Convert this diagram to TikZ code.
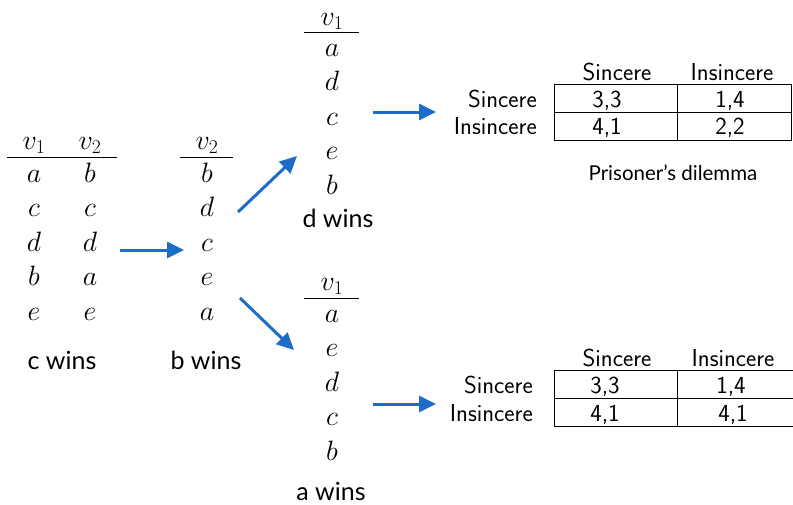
\RequirePackage{fix-cm}
\documentclass[tikz,border=0pt]{standalone}
\usepackage{fontspec}
\usetikzlibrary{arrows.meta}
\newfontfamily\labelfont{Lato}
\definecolor{arrowblue}{RGB}{28,108,200}
\begin{document}
\begin{tikzpicture}[x=1pt,y=-1pt,
  letter/.style={anchor=base,inner sep=0pt,font=\fontsize{28}{33}\selectfont},
  wins/.style={anchor=base,inner sep=0pt,font=\labelfont\fontsize{25}{30}\selectfont},
  payoff/.style={anchor=base,inner sep=0pt,font=\sffamily\fontsize{24.5}{29}\selectfont},
  rowlabel/.style={payoff,anchor=base east},
  cell/.style={draw,line width=1pt,inner sep=0pt,minimum height=28pt},
  rulebar/.style={line width=1pt},
  flow/.style={draw=arrowblue,line width=3pt,-{Triangle[length=17pt,width=16pt]}}]
\useasboundingbox (0,0) rectangle (793,504);

% ---- ballots of voters v1, v2 ----
\node[letter] (h11) at (34,149) {$v_1$};
\node[letter] (h12) at (90,149) {$v_2$};
\draw[rulebar] (7,157.5) -- (117,157.5);
\foreach \a/\b [count=\i from 0] in {a/b,c/c,d/d,b/a,e/e}{
  \node[letter] (t1a\i) at (34,182+34.5*\i) {$\a$};
  \node[letter] (t1b\i) at (90,182+34.5*\i) {$\b$};
}
\node[wins] (cw) at (62,369) {c wins};

% ---- after eliminating c: voter v2 ----
\node[letter] (h2) at (207,149) {$v_2$};
\draw[rulebar] (180,157.5) -- (233,157.5);
\foreach \a [count=\i from 0] in {b,d,c,e,a}{
  \node[letter] (t2\i) at (207,182+34.5*\i) {$\a$};
}
\node[wins] (bw) at (206,369) {b wins};

% ---- upper branch: voter v1 ----
\node[letter] (h3) at (332,25) {$v_1$};
\draw[rulebar] (304,32.5) -- (359,32.5);
\foreach \a [count=\i from 0] in {a,d,c,e,b}{
  \node[letter] (t3\i) at (332,56+34.5*\i) {$\a$};
}
\node[wins] (dw) at (338,227) {d wins};

% ---- lower branch: voter v1 ----
\node[letter] (h4) at (332,290) {$v_1$};
\draw[rulebar] (304,298) -- (359,298);
\foreach \a [count=\i from 0] in {a,e,d,c,b}{
  \node[letter] (t4\i) at (332,322+34.5*\i) {$\a$};
}
\node[wins] (aw) at (331,500) {a wins};

% ---- arrows ----
\coordinate (s1) at (120,250);  \coordinate (e1) at (184,250);
\coordinate (s2) at (238,212);  \coordinate (e2) at (297,156);
\coordinate (s3) at (240,298);  \coordinate (e3) at (294,350);
\coordinate (s4) at (373,112);  \coordinate (e4) at (436,112);
\coordinate (s5) at (373,404);  \coordinate (e5) at (436,404);
\draw[flow] (s1) -- (e1);
\draw[flow] (s2) -- (e2);
\draw[flow] (s3) -- (e3);
\draw[flow] (s4) -- (e4);
\draw[flow] (s5) -- (e5);

% ---- upper payoff matrix ----
\node[cell,minimum width=123pt] (p11) at (615.5,98) {};
\node[cell,minimum width=114pt] (p12) at (734,98) {};
\node[cell,minimum width=123pt] (p21) at (615.5,126) {};
\node[cell,minimum width=114pt] (p22) at (734,126) {};
\node[payoff] (ph1) at (617,80) {Sincere};
\node[payoff] (ph2) at (732,80) {Insincere};
\node[rowlabel] (pr1) at (537,107) {Sincere};
\node[rowlabel] (pr2) at (537,134) {Insincere};
\node[payoff] (pv11) at (607,107) {3,3};
\node[payoff] (pv12) at (730,107) {1,4};
\node[payoff] (pv21) at (607,134) {4,1};
\node[payoff] (pv22) at (730,134) {2,2};
\node[anchor=base,inner sep=0pt,font=\labelfont\fontsize{20.5}{25}\selectfont] (pd) at (673,180) {Prisoner’s dilemma};

% ---- lower payoff matrix ----
\node[cell,minimum width=123pt] (q11) at (615.5,384) {};
\node[cell,minimum width=140pt] (q12) at (747,384) {};
\node[cell,minimum width=123pt] (q21) at (615.5,412) {};
\node[cell,minimum width=140pt] (q22) at (747,412) {};
\node[payoff] (qh1) at (617,366) {Sincere};
\node[payoff] (qh2) at (733,366) {Insincere};
\node[rowlabel] (qr1) at (533,393) {Sincere};
\node[rowlabel] (qr2) at (533,421) {Insincere};
\node[payoff] (qv11) at (605,393) {3,3};
\node[payoff] (qv12) at (731,393) {1,4};
\node[payoff] (qv21) at (605,421) {4,1};
\node[payoff] (qv22) at (733,421) {4,1};
\end{tikzpicture}
\end{document}
